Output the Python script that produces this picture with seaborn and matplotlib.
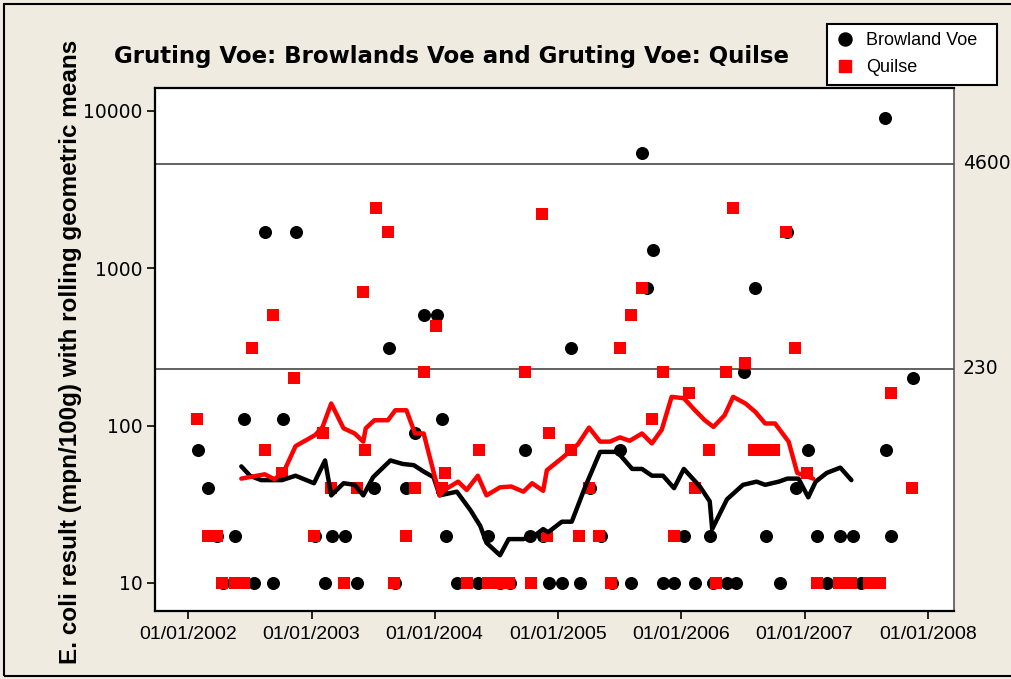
import numpy as np
import pandas as pd
import matplotlib
matplotlib.use("Agg")
import matplotlib.pyplot as plt
import matplotlib.dates as mdates
from matplotlib.lines import Line2D
from matplotlib.patches import Rectangle
from matplotlib.ticker import NullLocator, FixedLocator, FixedFormatter
import seaborn as sns

# ---------------- data ----------------
TITLE = "Gruting Voe: Browlands Voe and Gruting Voe: Quilse"
YLABEL = "E. coli result (mpn/100g) with rolling geometric means"
SERIES = ["Browland Voe", "Quilse"]

# sample dates as decimal years, values in mpn/100g
browland_t = [2002.08, 2002.16, 2002.23, 2002.28, 2002.38, 2002.45, 2002.53, 2002.62, 2002.69, 2002.77, 2002.87,
              2003.03, 2003.11, 2003.17, 2003.27, 2003.37, 2003.51, 2003.63, 2003.68, 2003.77, 2003.84, 2003.91,
              2004.02, 2004.06, 2004.09, 2004.18, 2004.35, 2004.43, 2004.53, 2004.61, 2004.73, 2004.77, 2004.88, 2004.93,
              2005.03, 2005.10, 2005.18, 2005.26, 2005.35, 2005.44, 2005.50, 2005.59, 2005.68, 2005.72, 2005.77, 2005.85, 2005.94,
              2006.02, 2006.11, 2006.23, 2006.26, 2006.37, 2006.44, 2006.51, 2006.60, 2006.69, 2006.80, 2006.86, 2006.93,
              2007.03, 2007.10, 2007.18, 2007.29, 2007.39, 2007.46, 2007.65, 2007.66, 2007.70, 2007.88]
browland_v = [70, 40, 20, 10, 20, 110, 10, 1700, 10, 110, 1700,
              20, 10, 20, 20, 10, 40, 310, 10, 40, 90, 500,
              500, 110, 20, 10, 10, 20, 10, 10, 70, 20, 20, 10,
              10, 310, 10, 40, 20, 10, 70, 10, 5400, 750, 1300, 10, 10,
              20, 10, 20, 10, 10, 10, 220, 750, 20, 10, 1700, 40,
              70, 20, 10, 20, 20, 10, 9000, 70, 20, 200]

quilse_t = [2002.07, 2002.16, 2002.23, 2002.27, 2002.38, 2002.45, 2002.52, 2002.62, 2002.69, 2002.76, 2002.86,
            2003.02, 2003.09, 2003.16, 2003.26, 2003.37, 2003.42, 2003.43, 2003.52, 2003.62, 2003.67, 2003.77, 2003.84, 2003.91,
            2004.01, 2004.06, 2004.08, 2004.26, 2004.36, 2004.43, 2004.53, 2004.60, 2004.73, 2004.78, 2004.87, 2004.91, 2004.93,
            2005.10, 2005.17, 2005.25, 2005.33, 2005.43, 2005.50, 2005.59, 2005.68, 2005.76, 2005.85, 2005.94,
            2006.06, 2006.11, 2006.22, 2006.28, 2006.36, 2006.42, 2006.52, 2006.59, 2006.67, 2006.75, 2006.85, 2006.92,
            2007.02, 2007.10, 2007.28, 2007.38, 2007.52, 2007.61, 2007.70, 2007.87]
quilse_v = [110, 20, 20, 10, 10, 10, 310, 70, 500, 50, 200,
            20, 90, 40, 10, 40, 700, 70, 2400, 1700, 10, 20, 40, 220,
            430, 40, 50, 10, 70, 10, 10, 10, 220, 10, 2200, 20, 90,
            70, 20, 40, 20, 10, 310, 500, 750, 110, 220, 20,
            160, 40, 70, 10, 220, 2400, 250, 70, 70, 70, 1700, 310,
            50, 10, 10, 10, 10, 10, 160, 40]

# rolling geometric means
browland_gm_t = [2002.43, 2002.50, 2002.59, 2002.76, 2002.87,
                 2003.02, 2003.11, 2003.16, 2003.26, 2003.35, 2003.42, 2003.50, 2003.64, 2003.74, 2003.83, 2003.91, 2003.99,
                 2004.04, 2004.18, 2004.29, 2004.37, 2004.42, 2004.53, 2004.60, 2004.72, 2004.81, 2004.88, 2004.92,
                 2005.03, 2005.11, 2005.22, 2005.34, 2005.48, 2005.60, 2005.68, 2005.76, 2005.85, 2005.94,
                 2006.02, 2006.15, 2006.23, 2006.25, 2006.37, 2006.50, 2006.61, 2006.68, 2006.79, 2006.86, 2006.95,
                 2007.03, 2007.09, 2007.18, 2007.29, 2007.38]
browland_gm_v = [55, 48, 45, 45, 48,
                 43, 60, 36, 43, 42, 36, 47, 60, 57, 56, 51, 47,
                 36, 38, 29, 23, 18, 15, 19, 19, 20, 22, 21,
                 24.5, 24.5, 41, 68, 68, 53, 53, 48, 48, 40,
                 53, 41, 33, 22, 34, 42, 44, 42, 44, 46, 46,
                 35, 44, 50, 54, 45]

quilse_gm_t = [2002.43, 2002.62, 2002.70, 2002.78, 2002.87,
               2003.03, 2003.09, 2003.16, 2003.26, 2003.35, 2003.42, 2003.44, 2003.51, 2003.62, 2003.68, 2003.77, 2003.84, 2003.91,
               2004.04, 2004.08, 2004.19, 2004.26, 2004.35, 2004.42, 2004.53, 2004.62, 2004.72, 2004.79, 2004.88, 2004.91,
               2005.04, 2005.16, 2005.25, 2005.34, 2005.42, 2005.50, 2005.58, 2005.68, 2005.76, 2005.84, 2005.92,
               2006.02, 2006.11, 2006.19, 2006.26, 2006.35, 2006.42, 2006.52, 2006.60, 2006.68, 2006.76, 2006.87, 2006.94,
               2007.07]
quilse_gm_v = [46, 49, 45.5, 52, 74,
               87, 98, 138, 96, 89, 79, 96, 108, 108, 125, 125, 89, 89,
               36, 39, 44, 39, 48, 36, 40.5, 41, 38, 43, 38.5, 52,
               63, 76, 97, 79, 79, 84, 80, 89, 77, 94, 152,
               149, 125, 108, 98, 116, 152, 138, 122, 103, 103, 79, 50,
               46]

ref_levels = [4600, 230]
ref_labels = ["4600", "230"]
y_ticks = [10, 100, 1000, 10000]
y_ticklabels = ["10", "100", "1000", "10000"]
x_tick_years = [2002, 2003, 2004, 2005, 2006, 2007, 2008]
x_limits = [2001.729, 2008.213]
y_limits = [6.64, 13900]


def to_dates(years):
    out = []
    for y in years:
        base = int(np.floor(y))
        out.append(pd.Timestamp(base, 1, 1) + pd.Timedelta(days=(y - base) * 365.25))
    return out


df_b = pd.DataFrame({"date": to_dates(browland_t), "value": browland_v})
df_q = pd.DataFrame({"date": to_dates(quilse_t), "value": quilse_v})
df_bgm = pd.DataFrame({"date": to_dates(browland_gm_t), "value": browland_gm_v})
df_qgm = pd.DataFrame({"date": to_dates(quilse_gm_t), "value": quilse_gm_v})

# ---------------- style ----------------
sns.set_style("white")
plt.rcParams["font.family"] = ["DejaVu Sans"]
plt.rcParams["text.color"] = "black"
plt.rcParams["axes.labelcolor"] = "black"
plt.rcParams["xtick.color"] = "black"
plt.rcParams["ytick.color"] = "black"
BG = "#EFEBE1"

fig = plt.figure(figsize=(10.12, 6.79), dpi=100, facecolor=BG)
ax = fig.add_axes([155 / 1012, 1 - 611 / 679, (954 - 155) / 1012, (611 - 88) / 679])
ax.set_facecolor("white")
ax.set_yscale("log")

for lvl in ref_levels:
    ax.axhline(lvl, color="#555555", lw=1.3, zorder=1)

sns.scatterplot(data=df_b, x="date", y="value", ax=ax, color="black", marker="o",
                s=88, linewidth=0, zorder=3, legend=False)
sns.scatterplot(data=df_q, x="date", y="value", ax=ax, color="#FF0000", marker="s",
                s=75, linewidth=0, zorder=3, legend=False)
sns.lineplot(data=df_bgm, x="date", y="value", ax=ax, color="black", lw=3.2,
             estimator=None, zorder=4, legend=False)
sns.lineplot(data=df_qgm, x="date", y="value", ax=ax, color="#FF0000", lw=3.2,
             estimator=None, zorder=5, legend=False)

ax.set_xlim(to_dates(x_limits))
ax.set_ylim(y_limits)

ax.yaxis.set_major_locator(FixedLocator(y_ticks))
ax.yaxis.set_major_formatter(FixedFormatter(y_ticklabels))
ax.yaxis.set_minor_locator(NullLocator())
ax.xaxis.set_major_locator(FixedLocator(mdates.date2num(to_dates(x_tick_years))))
ax.xaxis.set_major_formatter(mdates.DateFormatter("%d/%m/%Y"))
ax.xaxis.set_minor_locator(NullLocator())

ax.tick_params(axis="y", direction="out", length=6, width=1.2, color="black", pad=3,
               labelsize=13.5, labelcolor="black", left=True)
ax.tick_params(axis="x", direction="out", length=6, width=1.2, color="black", pad=5,
               labelsize=14, labelcolor="black", bottom=True)
for lab in ax.get_xticklabels():
    lab.set_family("Liberation Sans")

ax.set_xlabel("")
ax.set_ylabel("")
for side in ["left", "bottom", "top"]:
    ax.spines[side].set_color("black")
    ax.spines[side].set_linewidth(1.6)
ax.spines["right"].set_color("#555555")
ax.spines["right"].set_linewidth(1.2)

for lvl, lab in zip(ref_levels, ref_labels):
    ax.text(1.011, lvl, lab, transform=ax.get_yaxis_transform(), ha="left", va="center",
            fontsize=13.5, color="black")

fig.text(452 / 1012, 1 - 57 / 679, TITLE, ha="center", va="center", fontsize=16.5,
         fontweight="bold", family="DejaVu Sans", color="black")
fig.text(71 / 1012, 1 - 352 / 679, YLABEL, ha="center", va="center", rotation=90,
         fontsize=17.5, fontweight="bold", family="Liberation Sans", color="black")

handles = [Line2D([], [], marker="o", color="black", linestyle="none", markersize=9.4),
           Line2D([], [], marker="s", color="#FF0000", linestyle="none", markersize=8.6)]
leg = fig.legend(handles, SERIES, loc="upper left",
                 bbox_to_anchor=(827 / 1012, 1 - 81 / 679, 170 / 1012, 57 / 679), mode="expand",
                 frameon=True, fancybox=False, edgecolor="black",
                 prop={"family": "Liberation Sans", "size": 13},
                 borderpad=0.47, labelspacing=0.55, handletextpad=0.64, handlelength=1.05,
                 borderaxespad=0)
leg.get_frame().set_linewidth(1.5)
leg.get_frame().set_facecolor("white")
leg.get_frame().set_alpha(1)

fig.add_artist(Rectangle((4 / 1012, 3 / 679), 1.2, 672 / 679, transform=fig.transFigure,
                         fill=False, edgecolor="black", lw=1.5))

fig.savefig("out.png", dpi=100, facecolor=BG)
